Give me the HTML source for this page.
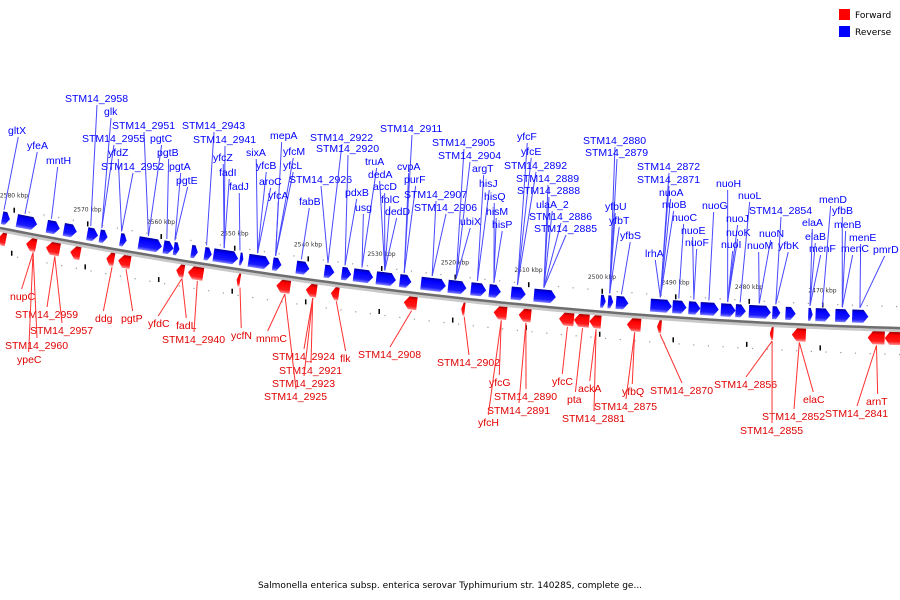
<!DOCTYPE html>
<html><head><meta charset="utf-8"><style>
body{margin:0;background:#fff;width:900px;height:600px;overflow:hidden}
svg{display:block}
</style></head><body>
<svg id="chart" width="900" height="600" xmlns="http://www.w3.org/2000/svg">
<defs>
<linearGradient id="gb" x1="0" y1="0" x2="0" y2="1"><stop offset="0" stop-color="#0000a0"/><stop offset="0.25" stop-color="#0000ff"/><stop offset="0.75" stop-color="#1a1aff"/><stop offset="1" stop-color="#8080ff"/></linearGradient>
<linearGradient id="gr" x1="0" y1="0" x2="0" y2="1"><stop offset="0" stop-color="#a00000"/><stop offset="0.25" stop-color="#ff0000"/><stop offset="0.75" stop-color="#ff1a1a"/><stop offset="1" stop-color="#ff9090"/></linearGradient>
</defs>
<g id="legend">
<rect x="839" y="9" width="11" height="11" fill="#ff0000"/>
<text x="855" y="18" font-family="DejaVu Sans, sans-serif" font-size="9" fill="#000">Forward</text>
<rect x="839" y="26" width="11" height="11" fill="#0000ff"/>
<text x="855" y="35" font-family="DejaVu Sans, sans-serif" font-size="9" fill="#000">Reverse</text>
</g>
<text x="450" y="588" text-anchor="middle" font-family="DejaVu Sans, sans-serif" font-size="9" fill="#000">Salmonella enterica subsp. enterica serovar Typhimurium str. 14028S, complete ge...</text>
</svg>
<script>
const tickKbp=[2580,2570,2560,2550,2540,2530,2520,2510,2500,2490,2480,2470];
const blueStart=[2581.9,2579.9,2575.8,2573.5,2570.3,2568.6,2565.8,2563.3,2559.9,2558.5,2556.1,2554.3,2553.1,2549.5,2548.3,2545.0,2541.8,2537.95,2535.6,2534.0,2530.9,2527.7,2524.8,2521.1,2518.0,2515.5,2512.5,2509.4,2500.3,2499.3,2498.2,2493.5,2490.5,2488.3,2486.7,2483.9,2481.9,2480.1,2476.9,2475.1,2472.0,2471.0,2468.3,2466.0];
const blueEnd=[2580.8,2577.1,2574.0,2571.7,2568.8,2567.5,2564.9,2560.1,2558.5,2557.7,2555.2,2553.3,2549.7,2549.0,2545.4,2543.8,2540.0,2536.6,2534.3,2531.3,2528.2,2526.1,2521.4,2518.6,2515.9,2513.9,2510.5,2506.4,2499.6,2498.6,2496.5,2490.6,2488.6,2486.7,2484.2,2481.9,2480.5,2477.1,2475.8,2473.7,2471.4,2469.0,2466.3,2463.8];
const redStart=[2581.9,2578.1,2575.4,2572.1,2567.2,2565.6,2557.7,2556.1,2549.5,2544.1,2540.1,2536.7,2526.8,2519.0,2514.6,2511.2,2505.7,2503.7,2501.6,2496.5,2492.4,2477.1,2474.1,2463.8,2461.5];
const redEnd=[2580.8,2576.7,2573.5,2570.7,2566.1,2563.9,2556.6,2554.0,2549.0,2542.2,2538.6,2535.6,2525.0,2518.5,2512.8,2509.5,2503.7,2501.6,2500.0,2494.6,2491.8,2476.6,2472.2,2461.5,2459.4];
const blueLabels=[["STM14_2958",65,102],["glk",104,115],["STM14_2951",112,129],["STM14_2955",82,142],["pgtC",150,142],["yfdZ",108,156],["pgtB",157,156],["STM14_2952",101,170],["pgtA",169,170],["pgtE",176,184],["gltX",8,134],["yfeA",27,149],["mntH",46,164],["STM14_2943",182,129],["STM14_2941",193,143],["yfcZ",213,161],["fadI",219,176],["fadJ",229,190],["sixA",246,156],["mepA",270,139],["yfcM",283,155],["yfcL",283,169],["yfcB",256,169],["aroC",259,185],["yfcA",268,199],["STM14_2926",289,183],["fabB",299,205],["STM14_2922",310,141],["STM14_2920",316,152],["STM14_2911",380,132],["truA",365,165],["pdxB",345,196],["dedA",368,178],["accD",373,190],["usg",355,211],["folC",381,203],["dedD",385,215],["cvpA",397,170],["purF",404,183],["STM14_2907",404,198],["STM14_2906",414,211],["STM14_2905",432,146],["STM14_2904",438,159],["argT",472,172],["hisJ",479,187],["ubiX",460,225],["hisQ",484,200],["hisM",486,215],["hisP",492,228],["yfcF",517,140],["yfcE",521,155],["STM14_2892",504,169],["STM14_2889",516,182],["STM14_2888",517,194],["ulaA_2",536,208],["STM14_2886",529,220],["STM14_2885",534,232],["STM14_2880",583,144],["STM14_2879",585,156],["yfbU",605,210],["yfbT",609,224],["yfbS",620,239],["lrhA",645,257],["STM14_2872",637,170],["STM14_2871",637,183],["nuoA",659,196],["nuoB",662,208],["nuoC",672,221],["nuoE",681,234],["nuoF",685,246],["nuoG",702,209],["nuoH",716,187],["nuoL",738,199],["nuoJ",726,222],["nuoK",726,236],["nuoI",721,248],["STM14_2854",749,214],["nuoN",759,237],["nuoM",747,249],["yfbK",778,249],["menD",819,203],["yfbB",832,214],["elaA",802,226],["elaB",805,240],["menB",834,228],["menE",849,241],["menF",809,252],["menC",841,252],["pmrD",873,253]];
const redLabels=[["nupC",10,300],["STM14_2959",15,318],["STM14_2957",30,334],["STM14_2960",5,349],["ypeC",17,363],["ddg",95,322],["pgtP",121,322],["yfdC",148,327],["fadL",176,329],["STM14_2940",162,343],["ycfN",231,339],["mnmC",256,342],["STM14_2924",272,360],["STM14_2921",279,374],["STM14_2923",272,387],["STM14_2925",264,400],["flk",340,362],["STM14_2908",358,358],["STM14_2902",437,366],["yfcG",489,386],["STM14_2890",494,400],["STM14_2891",487,414],["yfcH",478,426],["yfcC",552,385],["pta",567,403],["ackA",578,392],["STM14_2881",562,422],["yfbQ",622,395],["STM14_2875",594,410],["STM14_2870",650,394],["STM14_2856",714,388],["STM14_2852",762,420],["STM14_2855",740,434],["elaC",803,403],["arnT",866,405],["STM14_2841",825,417]];

const NS='http://www.w3.org/2000/svg';
const svg=document.getElementById('chart');
function xOf(k){return (2581.9-k)*7.35;}
function yOf(x){return 228+0.1956*x-9.38e-5*x*x;}
function slope(x){return 0.1956-2*9.38e-5*x;}
function mk(tag,attrs,parent){const e=document.createElementNS(NS,tag);for(const k in attrs)e.setAttribute(k,attrs[k]);(parent||svg).appendChild(e);return e;}
function cw(t){let w=0;for(const c of t){w+= (c==='_')?5.5:(/[A-Z0-9]/.test(c)?6.5:(/[ijlf]/.test(c)?2.8:5.6));}return w;}

let d='';for(let x=0;x<=900;x+=10){d+=(x?'L':'M')+x+','+yOf(x).toFixed(1);}
const bb2=mk('path',{d:d,fill:'none',stroke:'#c8c8c8','stroke-width':5,transform:'translate(0,1.5)'});


const bb=mk('path',{d:d,fill:'none',stroke:'#6e6e6e','stroke-width':2.5});



for(let k=2582;k>=2459;k-=2){const x=xOf(k);if(x<0||x>900)continue;const y=yOf(x);
 const a=mk('rect',{x:x,y:y-22,width:1.2,height:1.2,fill:'#999'});
 
 
 const b=mk('rect',{x:x+3,y:y+26,width:1.2,height:1.2,fill:'#999'});
 
 
}
tickKbp.forEach(k=>{const x=xOf(k);const y=yOf(x);
 const t=mk('rect',{x:x-0.5,y:y-23,width:1.5,height:5,fill:'#000'});
 
 
 const t2=mk('rect',{x:x-3,y:y+20,width:1.5,height:5,fill:'#000'});
 
 
 const l=mk('text',{x:x,y:y-33,'text-anchor':'middle','font-family':'DejaVu Sans, sans-serif','font-size':'6',fill:'#333'});
 l.textContent=k+' kbp';
 
 
});

function gene(k0,k1,strand){
 const x0=xOf(k0),x1=xOf(k1);const w=x1-x0;const xm=(x0+x1)/2;const ym=yOf(xm);
 const ang=Math.atan(slope(xm))*180/Math.PI;
 const h=13;const off=strand>0?4:-17;const tip=Math.min(5,w*0.5);
 let pts;
 if(strand<0) pts=[[0,0],[w-tip,0],[w,h/2],[w-tip,h],[0,h]];
 else pts=[[tip,0],[w,0],[w,h],[tip,h],[0,h/2]];
 const g=mk('polygon',{points:pts.map(p=>(p[0]-w/2).toFixed(1)+','+(p[1]+off)).join(' '),fill:strand>0?'url(#gr)':'url(#gb)',transform:`translate(${xm.toFixed(1)},${ym.toFixed(1)}) rotate(${ang.toFixed(2)})`});
 
 
 return xm;
}
const blueCenters=blueStart.map((s,i)=>gene(s,blueEnd[i],-1));
const redCenters=redStart.map((s,i)=>gene(s,redEnd[i],1));

function nearest(arr,x){let b=arr[0];arr.forEach(c=>{if(Math.abs(c-x)<Math.abs(b-x))b=c;});return b;}
blueLabels.forEach(([t,x,y])=>{
 const sx=x+cw(t)/2;const tx=nearest(blueCenters,sx-6);
 const ln=mk('line',{x1:sx,y1:y+3,x2:tx,y2:yOf(tx)-19,stroke:'#4848ff','stroke-width':1});
 
 
 const e=mk('text',{x:x,y:y,'font-family':'Liberation Sans, sans-serif','font-size':'10.5',fill:'#0000ff'});
 e.textContent=t;
 
 
});
redLabels.forEach(([t,x,y])=>{
 const sx=x+cw(t)/2;const tx=nearest(redCenters,sx);
 const ln=mk('line',{x1:sx,y1:y-11,x2:tx,y2:yOf(tx)+18,stroke:'#ff3030','stroke-width':1});
 
 
 const e=mk('text',{x:x,y:y,'font-family':'Liberation Sans, sans-serif','font-size':'10.5',fill:'#e00000'});
 e.textContent=t;
 
 
});
</script>
</body></html>
